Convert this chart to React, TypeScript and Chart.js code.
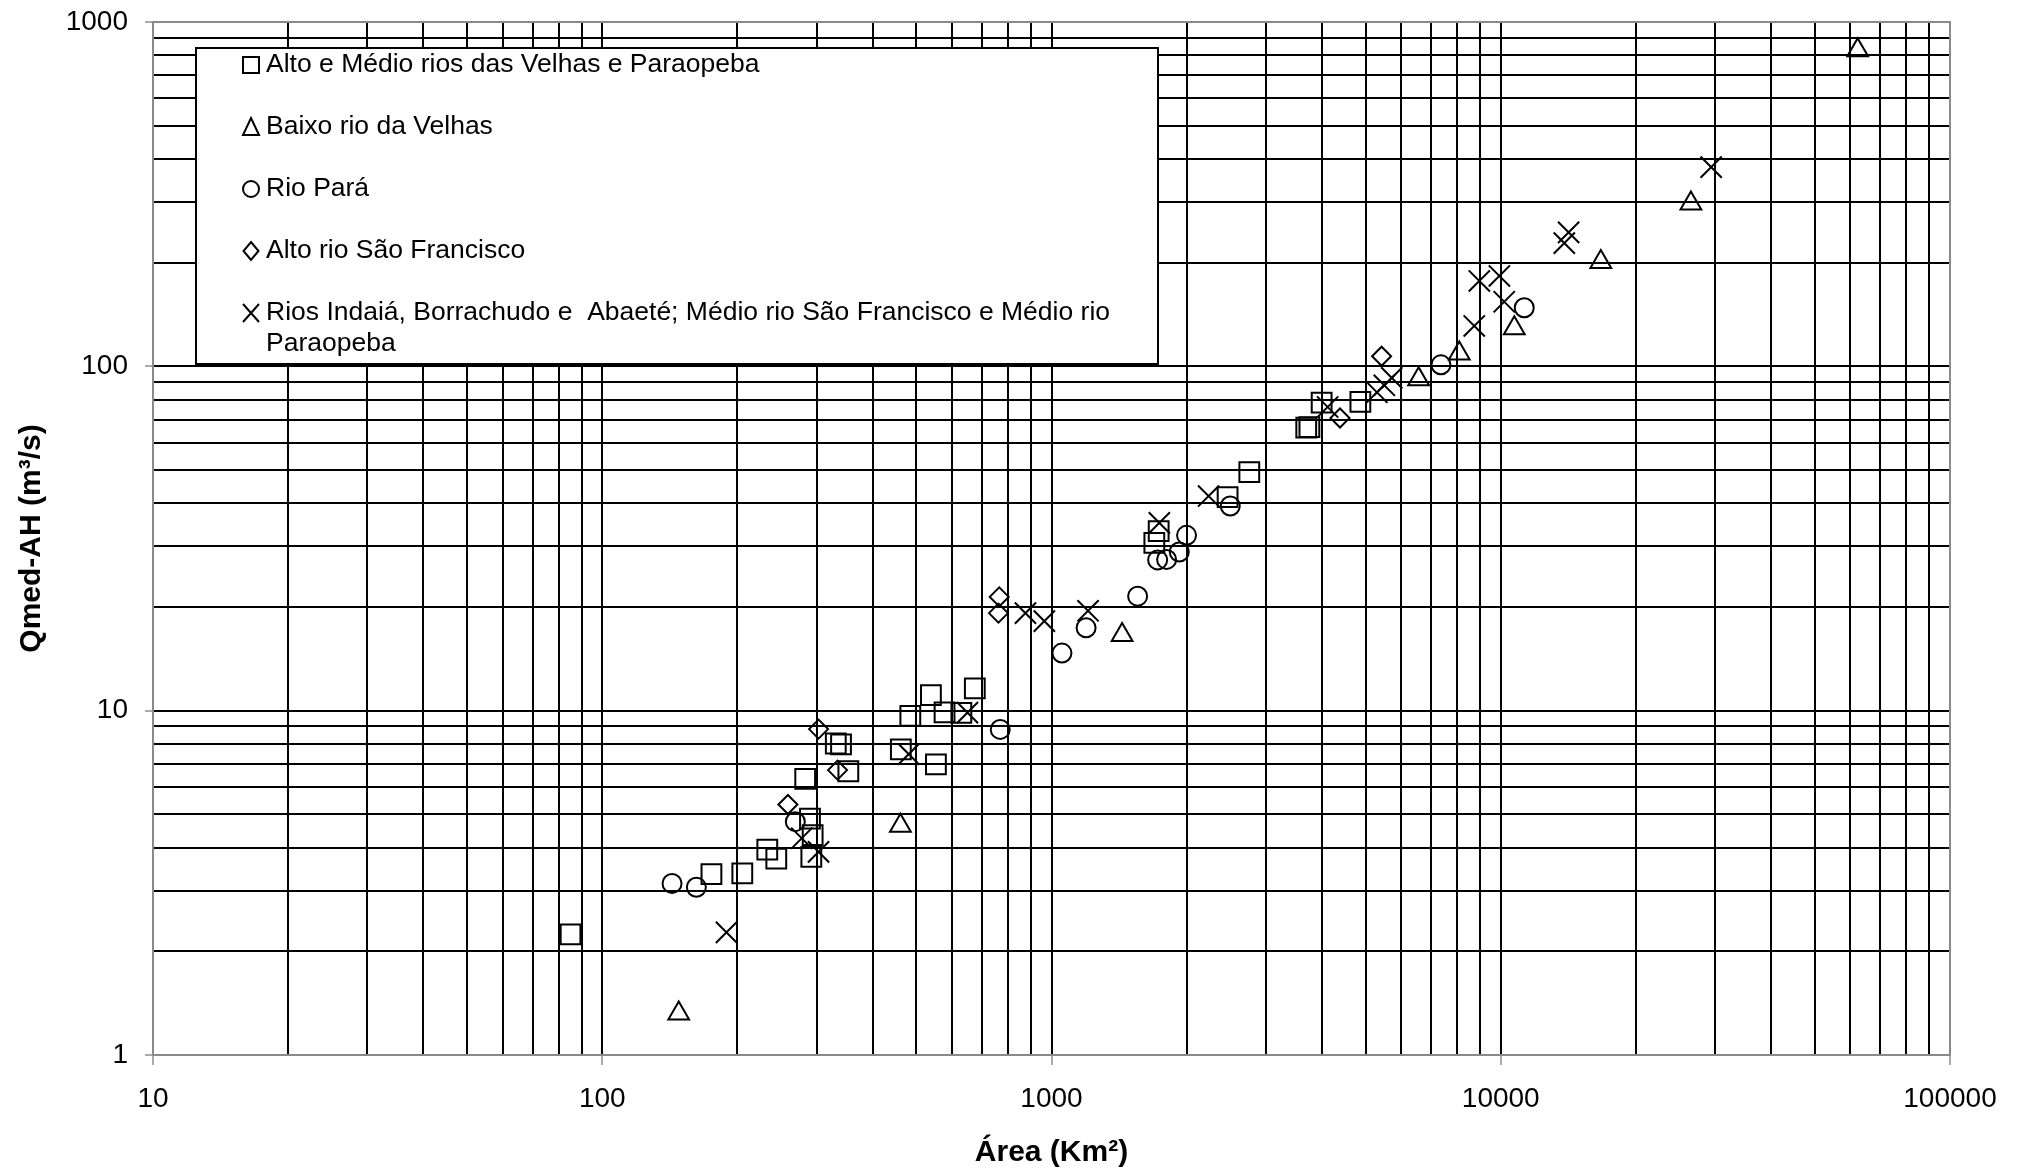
import React, { useEffect, useRef } from 'react';
import { Chart, registerables } from 'chart.js';

Chart.register(...registerables);

// ---------- data ----------
const seriesLabels = [
  'Alto e Médio rios das Velhas e Paraopeba',
  'Baixo rio da Velhas',
  'Rio Pará',
  'Alto rio São Francisco',
  'Rios Indaiá, Borrachudo e  Abaeté; Médio rio São Francisco e Médio rio Paraopeba',
];

const altoMedioArea = [85, 175, 205, 233, 244, 283, 290, 294, 292, 331, 340, 353, 462, 485, 539, 553, 578, 630, 675, 1732, 1694, 2466, 2756, 3690, 3750, 3993, 4870];
const altoMedioQ = [2.24, 3.35, 3.37, 3.95, 3.72, 6.34, 4.86, 4.35, 3.76, 8.03, 7.98, 6.67, 7.72, 9.66, 11.1, 6.98, 9.88, 9.85, 11.6, 33.2, 30.7, 41.7, 49.3, 66.4, 66.6, 78.5, 78.8];

const baixoArea = [148, 461, 1436, 6565, 8085, 10720, 16700, 26500, 62300];
const baixoQ = [1.32, 4.63, 16.6, 91.7, 109, 129, 201, 297, 828];

const paraArea = [143, 162, 269, 769, 1055, 1194, 1555, 1723, 1804, 1925, 1998, 2500, 7360, 11280];
const paraQ = [3.15, 3.07, 4.76, 8.82, 14.7, 17.4, 21.5, 27.4, 27.5, 28.9, 32.3, 39.3, 101, 148];

const altoSFArea = [259, 303, 334, 765, 762, 4387, 5430];
const altoSFQ = [5.34, 8.84, 6.72, 21.4, 19.2, 70.8, 107];

const indaiaArea = [189, 278, 303, 481, 650, 875, 964, 1206, 1738, 2237, 4118, 5300, 5506, 5720, 8730, 8960, 9930, 10180, 13850, 14160, 29400];
const indaiaQ = [2.27, 4.26, 3.89, 7.48, 9.87, 19.2, 18.2, 19.5, 35.1, 42.0, 76.2, 84.1, 88.1, 92.6, 131, 177, 183, 154, 228, 245, 379];

const xTickLabels = ['10', '100', '1000', '10000', '100000'];
const yTickLabels = ['1', '10', '100', '1000'];

const xTitle = 'Área (Km²)';
const yTitle = 'Qmed-AH (m³/s)';

// ---------- helpers ----------
function logGrid(min: number, max: number): number[] {
  const out: number[] = [];
  for (let p = min; p < max; p *= 10) {
    for (let m = 1; m < 10; m++) out.push(m * p);
  }
  out.push(max);
  return out;
}

const xGrid = logGrid(10, 100000);
const yGrid = logGrid(1, 1000);

const pairs = (xs: number[], ys: number[]) => xs.map((x, i) => ({ x, y: ys[i] }));

const FONT = "'Liberation Sans', Arial, Helvetica, sans-serif";

const symbols = ['square', 'triangle', 'circle', 'diamond', 'x'];

function drawSymbol(ctx: CanvasRenderingContext2D, kind: string, cx: number, cy: number) {
  ctx.beginPath();
  if (kind === 'square') {
    ctx.rect(cx - 8, cy - 8, 16, 16);
  } else if (kind === 'triangle') {
    ctx.moveTo(cx, cy - 9);
    ctx.lineTo(cx + 8, cy + 8);
    ctx.lineTo(cx - 8, cy + 8);
    ctx.closePath();
  } else if (kind === 'circle') {
    ctx.arc(cx, cy, 8, 0, Math.PI * 2);
  } else if (kind === 'diamond') {
    ctx.moveTo(cx, cy - 9);
    ctx.lineTo(cx + 7.5, cy);
    ctx.lineTo(cx, cy + 9);
    ctx.lineTo(cx - 7.5, cy);
    ctx.closePath();
  } else {
    ctx.moveTo(cx - 8, cy - 9);
    ctx.lineTo(cx + 8, cy + 9);
    ctx.moveTo(cx + 8, cy - 9);
    ctx.lineTo(cx - 8, cy + 9);
  }
  ctx.stroke();
}

function wrapText(ctx: CanvasRenderingContext2D, text: string, maxWidth: number): string[] {
  const words = text.split(' ');
  const lines: string[] = [];
  let cur = '';
  for (let i = 0; i < words.length; i++) {
    const test = cur === '' ? words[i] : cur + ' ' + words[i];
    if (ctx.measureText(test).width > maxWidth && cur !== '') {
      lines.push(cur);
      cur = words[i];
    } else {
      cur = test;
    }
  }
  if (cur !== '') lines.push(cur);
  return lines;
}

const frameAndLegendPlugin = {
  id: 'frameAndLegend',
  beforeDatasetsDraw(chart: any) {
    const { ctx, chartArea } = chart;
    ctx.save();
    ctx.strokeStyle = '#8a8a8a';
    ctx.lineWidth = 2;
    ctx.strokeRect(chartArea.left, chartArea.top, chartArea.right - chartArea.left, chartArea.bottom - chartArea.top);
    ctx.restore();
  },
  afterDraw(chart: any) {
    const { ctx, chartArea } = chart;
    const bx = chartArea.left + 43;
    const by = chartArea.top + 26;
    const bw = 962;
    const bh = 316;
    ctx.save();
    ctx.fillStyle = '#ffffff';
    ctx.fillRect(bx, by, bw, bh);
    ctx.strokeStyle = '#000';
    ctx.lineWidth = 2;
    ctx.strokeRect(bx, by, bw, bh);

    ctx.font = `26.5px ${FONT}`;
    ctx.fillStyle = '#000';
    ctx.textBaseline = 'middle';
    ctx.textAlign = 'left';
    const symX = bx + 55;
    const textX = bx + 70;
    const rowStep = 62;
    const lineStep = 31;
    for (let i = 0; i < seriesLabels.length; i++) {
      const cy = by + 17 + i * rowStep;
      ctx.lineWidth = 2;
      ctx.strokeStyle = '#000';
      drawSymbol(ctx, symbols[i], symX, cy);
      const lines = wrapText(ctx, seriesLabels[i], 880);
      lines.forEach((ln, k) => ctx.fillText(ln, textX, cy + k * lineStep));
    }
    ctx.restore();
  },
};

const pointBase = {
  showLine: false,
  borderColor: '#000',
  backgroundColor: 'rgba(0,0,0,0)',
  borderWidth: 2,
};

export default function App() {
  const ref = useRef<HTMLCanvasElement>(null);

  useEffect(() => {
    if (!ref.current) return;
    const isMajorX = (v: number) => xTickLabels.includes(String(v));
    const isMajorY = (v: number) => yTickLabels.includes(String(v));

    const chart = new Chart(ref.current, {
      type: 'scatter',
      data: {
        datasets: [
          { ...pointBase, label: seriesLabels[0], data: pairs(altoMedioArea, altoMedioQ), pointStyle: 'rect', pointRadius: 14 },
          { ...pointBase, label: seriesLabels[1], data: pairs(baixoArea, baixoQ), pointStyle: 'triangle', pointRadius: 12 },
          { ...pointBase, label: seriesLabels[2], data: pairs(paraArea, paraQ), pointStyle: 'circle', pointRadius: 9.5 },
          { ...pointBase, label: seriesLabels[3], data: pairs(altoSFArea, altoSFQ), pointStyle: 'rectRot', pointRadius: 9.5 },
          { ...pointBase, label: seriesLabels[4], data: pairs(indaiaArea, indaiaQ), pointStyle: 'crossRot', pointRadius: 15 },
        ] as any,
      },
      options: {
        responsive: false,
        animation: false,
        devicePixelRatio: 1,
        events: [],
        layout: { padding: { top: 22, right: 74, bottom: 0, left: 0 } },
        plugins: {
          legend: { display: false },
          tooltip: { enabled: false },
        },
        scales: {
          x: {
            type: 'logarithmic',
            min: 10,
            max: 100000,
            afterBuildTicks: (scale: any) => {
              scale.ticks = xGrid.map((v) => ({ value: v, major: isMajorX(v) }));
            },
            afterFit: (scale: any) => {
              scale.height = 120;
              scale.paddingLeft = 0;
              scale.paddingRight = 0;
            },
            ticks: {
              autoSkip: false,
              maxRotation: 0,
              minRotation: 0,
              padding: 17,
              color: '#000',
              font: { family: FONT, size: 28 },
              callback: (v: any) => (isMajorX(Number(v)) ? String(v) : ''),
            },
            grid: {
              color: '#000',
              lineWidth: 2,
              tickLength: 10,
              tickWidth: 1,
              tickColor: (c: any) => (c.tick && isMajorX(c.tick.value) ? '#555' : 'rgba(0,0,0,0)'),
            },
            border: { display: false },
            title: {
              display: true,
              text: xTitle,
              color: '#000',
              font: { family: FONT, size: 30, weight: 'bold' },
              padding: { top: 0, bottom: 4 },
            },
          },
          y: {
            type: 'logarithmic',
            min: 1,
            max: 1000,
            afterBuildTicks: (scale: any) => {
              scale.ticks = yGrid.map((v) => ({ value: v, major: isMajorY(v) }));
            },
            afterFit: (scale: any) => {
              scale.width = 153;
              scale.paddingTop = 0;
              scale.paddingBottom = 0;
            },
            ticks: {
              autoSkip: false,
              padding: 17,
              color: '#000',
              font: { family: FONT, size: 28 },
              callback: (v: any) => (isMajorY(Number(v)) ? String(v) : ''),
            },
            grid: {
              color: '#000',
              lineWidth: 2,
              tickLength: 8,
              tickWidth: 1,
              tickColor: (c: any) => (c.tick && isMajorY(c.tick.value) ? '#555' : 'rgba(0,0,0,0)'),
            },
            border: { display: false },
            title: {
              display: true,
              text: yTitle,
              color: '#000',
              font: { family: FONT, size: 30, weight: 'bold' },
              padding: { top: 14, bottom: 0 },
            },
          },
        },
      } as any,
      plugins: [frameAndLegendPlugin],
    });
    return () => chart.destroy();
  }, []);

  return (
    <div style={{ position: 'absolute', left: 0, top: 0, width: 2024, height: 1175, background: '#fff' }}>
      <canvas ref={ref} width={2024} height={1175} style={{ display: 'block' }} />
    </div>
  );
}
